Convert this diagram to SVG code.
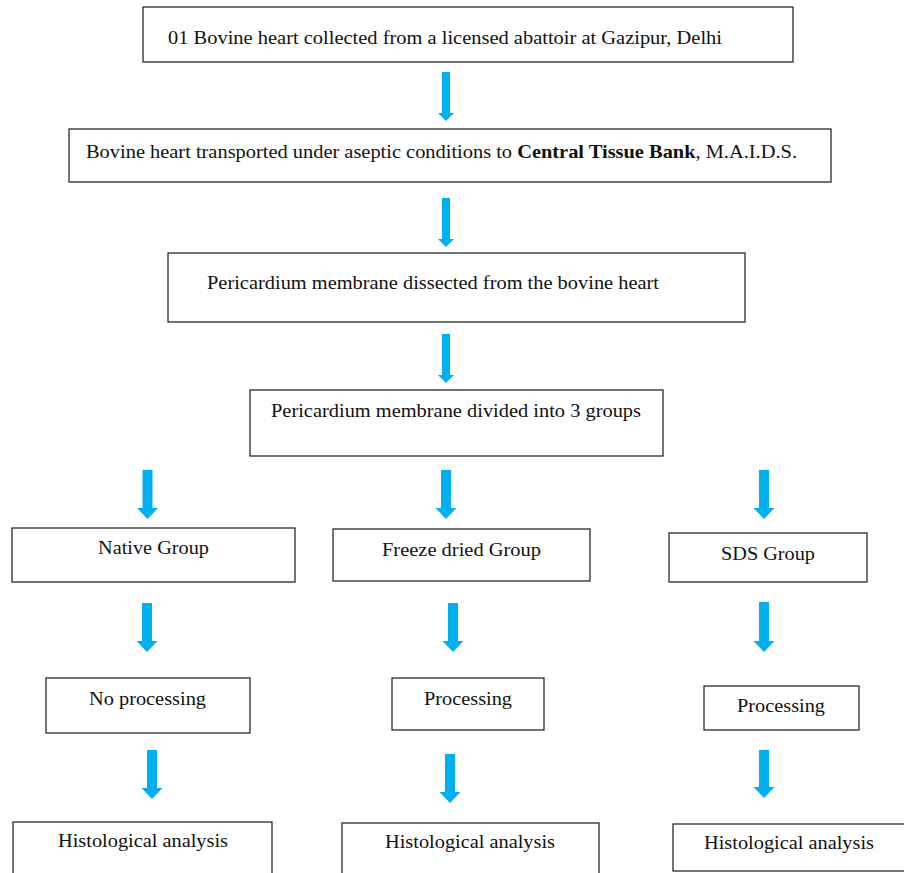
<svg xmlns="http://www.w3.org/2000/svg" width="904" height="873" viewBox="0 0 904 873">
<style>
.box{fill:#fff;stroke:#2a2a2a;stroke-width:1.3}
text{font-family:'Liberation Serif','Times New Roman','DejaVu Serif',serif;font-size:19px;fill:#111}
.b{font-weight:bold}
.arr{fill:#00B0F0}
</style>
<rect width="904" height="873" fill="#fff"/>
<g id="connectors">
<polygon class="arr" points="442,72 450,72 450,113 454,113 446,121 438,113 442,113"/>
<polygon class="arr" points="442,198 450,198 450,239 454,239 446,247 438,239 442,239"/>
<polygon class="arr" points="442,334 450,334 450,375 454,375 446,383 438,375 442,375"/>
<polygon class="arr" points="142.5,470 152.5,470 152.5,508 158,508 147.5,519 137,508 142.5,508"/>
<polygon class="arr" points="441,470 451,470 451,508 456.5,508 446,519 435.5,508 441,508"/>
<polygon class="arr" points="759,470 769,470 769,508 774.5,508 764,519 753.5,508 759,508"/>
<polygon class="arr" points="142,603 152,603 152,641 157.5,641 147,652 136.5,641 142,641"/>
<polygon class="arr" points="448,603 458,603 458,641 463.5,641 453,652 442.5,641 448,641"/>
<polygon class="arr" points="759,602 769,602 769,641 774.5,641 764,652 753.5,641 759,641"/>
<polygon class="arr" points="147,750 157,750 157,788 162.5,788 152,799 141.5,788 147,788"/>
<polygon class="arr" points="445,754 455,754 455,792 460.5,792 450,803 439.5,792 445,792"/>
<polygon class="arr" points="759,750 769,750 769,787 774.5,787 764,798 753.5,787 759,787"/>
</g>
<g id="n1"><rect class="box" x="143" y="7" width="650" height="55"/><text x="168" y="44" textLength="554" lengthAdjust="spacingAndGlyphs">01 Bovine heart collected from a licensed abattoir at Gazipur, Delhi</text></g>
<g id="n2"><rect class="box" x="69" y="129" width="762" height="53"/><text x="86" y="158" textLength="711" lengthAdjust="spacingAndGlyphs">Bovine heart transported under aseptic conditions to <tspan class="b">Central Tissue Bank</tspan>, M.A.I.D.S.</text></g>
<g id="n3"><rect class="box" x="168" y="253" width="577" height="69"/><text x="207" y="289" textLength="452" lengthAdjust="spacingAndGlyphs">Pericardium membrane dissected from the bovine heart</text></g>
<g id="n4"><rect class="box" x="250" y="390" width="413" height="66"/><text x="271" y="417" textLength="370" lengthAdjust="spacingAndGlyphs">Pericardium membrane divided into 3 groups</text></g>
<g id="n5"><rect class="box" x="12" y="528" width="283" height="54"/><text x="98" y="554" textLength="111" lengthAdjust="spacingAndGlyphs">Native Group</text></g>
<g id="n6"><rect class="box" x="333" y="529" width="257" height="52"/><text x="382" y="556" textLength="159" lengthAdjust="spacingAndGlyphs">Freeze dried Group</text></g>
<g id="n7"><rect class="box" x="669" y="533" width="198" height="49"/><text x="721" y="560" textLength="94" lengthAdjust="spacingAndGlyphs">SDS Group</text></g>
<g id="n8"><rect class="box" x="46" y="678" width="204" height="55"/><text x="89" y="705" textLength="117" lengthAdjust="spacingAndGlyphs">No processing</text></g>
<g id="n9"><rect class="box" x="392" y="678" width="152" height="52"/><text x="424" y="705" textLength="88" lengthAdjust="spacingAndGlyphs">Processing</text></g>
<g id="n10"><rect class="box" x="704" y="686" width="155" height="44"/><text x="737" y="712" textLength="88" lengthAdjust="spacingAndGlyphs">Processing</text></g>
<g id="n11"><rect class="box" x="13" y="822" width="259" height="60"/><text x="58" y="847" textLength="170" lengthAdjust="spacingAndGlyphs">Histological analysis</text></g>
<g id="n12"><rect class="box" x="342" y="823" width="257" height="60"/><text x="385" y="848" textLength="170" lengthAdjust="spacingAndGlyphs">Histological analysis</text></g>
<g id="n13"><rect class="box" x="673" y="824" width="240" height="47"/><text x="704" y="849" textLength="170" lengthAdjust="spacingAndGlyphs">Histological analysis</text></g>
</svg>
